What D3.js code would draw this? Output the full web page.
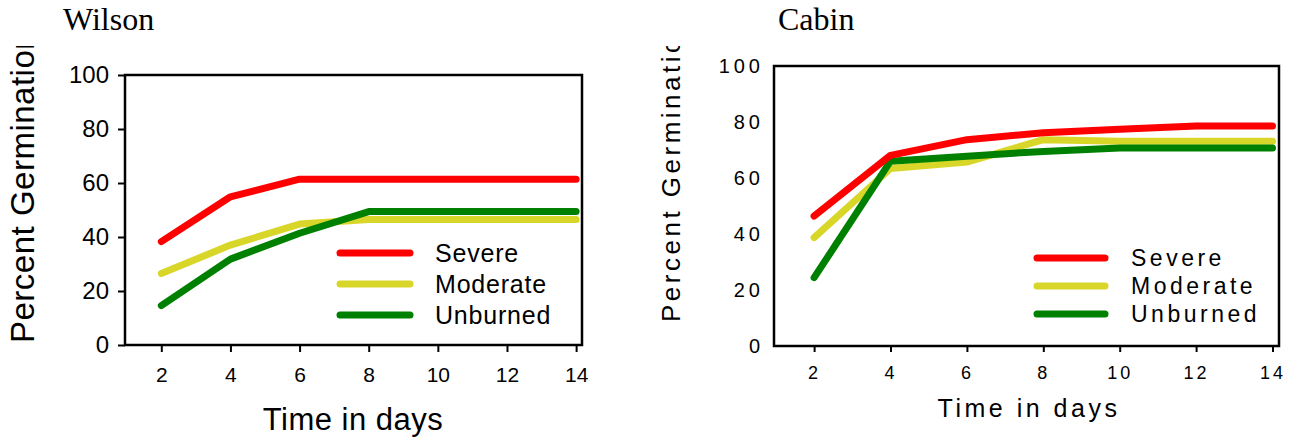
<!DOCTYPE html>
<html>
<head>
<meta charset="utf-8">
<script src="https://d3js.org/d3.v7.min.js"></script>
<style>
  body { margin: 0; background: #fff; }
  svg { display: block; }
</style>
</head>
<body>
<div id="chart"></div>
<script>
// Data.
var days = [2, 4, 6, 8, 10, 12, 14];
var yTicks = [0, 20, 40, 60, 80, 100];
var seriesNames = ["Severe", "Moderate", "Unburned"];
var seriesColors = ["#ff0000", "#d9d62a", "#008000"];

var wilsonSevere   = [38.3, 54.9, 61.4, 61.4, 61.4, 61.4, 61.4];
var wilsonModerate = [26.5, 37.0, 44.8, 46.5, 46.5, 46.5, 46.5];
var wilsonUnburned = [14.6, 31.8, 41.4, 49.4, 49.4, 49.4, 49.4];

var cabinSevere   = [46.4, 68.1, 73.7, 76.2, 77.4, 78.6, 78.6];
var cabinModerate = [38.7, 63.4, 65.7, 73.7, 73.1, 73.1, 73.1];
var cabinUnburned = [24.4, 66.0, 67.8, 69.5, 70.7, 70.7, 70.7];

var width = 1290;
var height = 438;
var sans = "'Liberation Sans', Arial, sans-serif";
var serif = "'Liberation Serif', 'Times New Roman', serif";

var svg = d3.select("#chart")
    .append("svg")
    .attr("width", width)
    .attr("height", height);

// clip for the cut-off y titles (top of the figure was cropped)
svg.append("clipPath").attr("id", "titleClip")
    .append("rect").attr("x", 0).attr("y", 46).attr("width", width).attr("height", height);

/* One panel: box, axes, lines, legend. */
function drawPanel(p) {
    var x = d3.scaleLinear().domain([0.95, 14.17]).range([p.left, p.right]);
    var y = d3.scaleLinear().domain([0, 100]).range([p.bottom, p.top]);
    var g = svg.append("g");

    // panel title
    g.append("text")
        .attr("x", p.titleX).attr("y", 30)
        .style("font-family", serif).style("font-size", "32px")
        .text(p.title);

    // y axis
    var yAxis = d3.axisLeft(y).tickValues(yTicks).tickSizeOuter(0)
        .tickSize(p.yTickSize).tickPadding(p.yPad);
    var yg = g.append("g").attr("transform", "translate(" + p.left + ",0)").call(yAxis);
    yg.select(".domain").remove();
    yg.selectAll("line").attr("stroke", "#000").attr("stroke-width", 2);
    yg.selectAll("text")
        .style("font-family", sans).style("font-size", p.yFont + "px")
        .style("letter-spacing", p.ySpacing + "px").attr("fill", "#000");

    // x axis
    var xAxis = d3.axisBottom(x).tickValues(days).tickSizeOuter(0)
        .tickSize(p.xTickSize).tickPadding(p.xPad);
    var xg = g.append("g").attr("transform", "translate(0," + p.bottom + ")").call(xAxis);
    xg.select(".domain").remove();
    xg.selectAll("line").attr("stroke", "#000").attr("stroke-width", 2);
    xg.selectAll("text")
        .style("font-family", sans).style("font-size", p.xFont + "px")
        .style("letter-spacing", p.xSpacing + "px").attr("fill", "#000");

    // box
    g.append("rect")
        .attr("x", p.left).attr("y", p.top)
        .attr("width", p.right - p.left).attr("height", p.bottom - p.top)
        .attr("fill", "none").attr("stroke", "#000").attr("stroke-width", 2.5);

    // lines: moderate, unburned, severe (severe on top)
    var line = d3.line().x(function(d, i) { return x(days[i]); }).y(function(d) { return y(d); });
    [1, 2, 0].forEach(function(k) {
        g.append("path")
            .datum(p.series[k])
            .attr("d", line)
            .attr("fill", "none")
            .attr("stroke", seriesColors[k])
            .attr("stroke-width", 7)
            .attr("stroke-linecap", "round")
            .attr("stroke-linejoin", "round");
    });

    // legend
    var leg = g.append("g");
    seriesNames.forEach(function(name, k) {
        var ly = p.legY + k * p.legStep;
        leg.append("line")
            .attr("x1", p.legX).attr("x2", p.legX + p.legLen)
            .attr("y1", ly).attr("y2", ly)
            .attr("stroke", seriesColors[k]).attr("stroke-width", 7)
            .attr("stroke-linecap", "round");
        leg.append("text")
            .attr("x", p.legX + p.legLen + p.legGap).attr("y", ly + p.legFont * 0.36)
            .style("font-family", sans).style("font-size", p.legFont + "px")
            .style("letter-spacing", p.legSpacing + "px")
            .text(name);
    });

    // x title
    g.append("text")
        .attr("x", p.xTitleX).attr("y", p.xTitleY)
        .attr("text-anchor", "middle")
        .style("font-family", sans).style("font-size", p.titleFont + "px")
        .style("letter-spacing", p.titleSpacing + "px")
        .text("Time in days");

    // y title (clipped at the top like the source)
    g.append("g").attr("clip-path", "url(#titleClip)")
        .append("text")
        .attr("transform", "translate(" + p.yTitleX + "," + p.yTitleY + ") rotate(-90)")
        .style("font-family", sans).style("font-size", p.yTitleFont + "px")
        .style("letter-spacing", p.titleSpacing + "px")
        .text("Percent Germination");
}

drawPanel({
    title: "Wilson", titleX: 63,
    left: 125, right: 582, top: 75, bottom: 345,
    series: [wilsonSevere, wilsonModerate, wilsonUnburned],
    yTickSize: 7, yPad: 9, yFont: 24, ySpacing: 0,
    xTickSize: 7, xPad: 15, xFont: 21, xSpacing: 0,
    legX: 340, legLen: 70, legGap: 25, legY: 253, legStep: 31, legFont: 25, legSpacing: 0.8,
    titleFont: 31, titleSpacing: 0.5, xTitleX: 353, xTitleY: 430,
    yTitleFont: 33, yTitleX: 34, yTitleY: 343
});

drawPanel({
    title: "Cabin", titleX: 778,
    left: 774, right: 1279, top: 66, bottom: 346,
    series: [cabinSevere, cabinModerate, cabinUnburned],
    yTickSize: 0, yPad: 10, yFont: 20, ySpacing: 4,
    xTickSize: 6, xPad: 14, xFont: 18, xSpacing: 3,
    legX: 1037, legLen: 68, legGap: 26, legY: 258, legStep: 28, legFont: 23, legSpacing: 3.5,
    titleFont: 25, titleSpacing: 3.5, xTitleX: 1029, xTitleY: 417,
    yTitleFont: 26, yTitleX: 680, yTitleY: 322
});
</script>
</body>
</html>
